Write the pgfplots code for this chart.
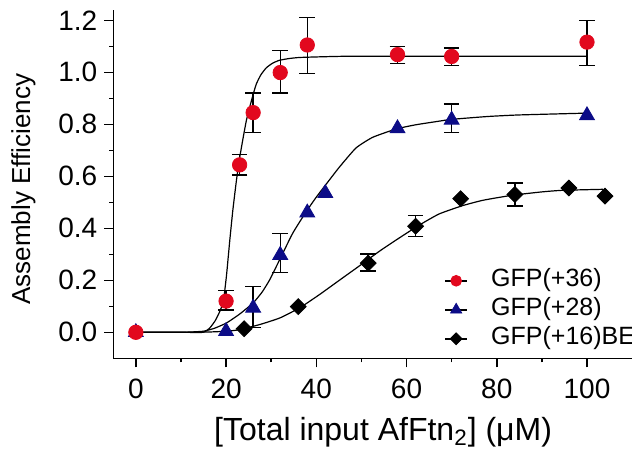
\documentclass[border=0pt]{standalone}
\usepackage{fontspec}
\setmainfont{Liberation Sans}
\usepackage{pgfplots}
\pgfplotsset{compat=1.18}
\definecolor{gfpred}{RGB}{226,8,30}
\definecolor{gfpblue}{RGB}{12,12,135}
\begin{document}
\begin{tikzpicture}
\begin{axis}[
  scale only axis,
  width=259.4pt, height=174.2pt,
  xmin=-5, xmax=110, ymin=-0.1, ymax=1.24,
  axis x line*=bottom, axis y line*=left,
  axis line style={line width=0.75pt, -},
  tick align=outside,
  major tick length=4.5pt, minor tick length=2pt,
  tick style={line width=0.75pt, black},
  xtick={0,20,40,60,80,100}, minor x tick num=1,
  ytick={0,0.2,0.4,0.6,0.8,1.0,1.2}, minor y tick num=1,
  tick label style={font=\fontsize{14}{16}\selectfont},
  xticklabel style={yshift=-2.5pt},
  /pgf/number format/assume math mode=true,
  yticklabel style={/pgf/number format/.cd, fixed, fixed zerofill, precision=1},
  xlabel={{}[Total input AfFtn\textsubscript{2}] (μM)},
  ylabel={Assembly Efficiency},
  xlabel style={font=\fontsize{16}{18}\selectfont, at={(axis description cs:0.52,-0.2124)}, anchor=center},
  ylabel style={font=\fontsize{13}{16}\selectfont, at={(axis description cs:-0.1735,0.485)}, anchor=center},
  legend style={draw=none, fill=none, at={(axis cs:68.3,0.245)}, anchor=north west,
    inner sep=0pt, row sep=2.7pt, column sep=11.6pt,
    font=\fontsize{12.5}{14}\selectfont,
    nodes={inner sep=0pt, text height=9pt, text depth=2.8pt}},
  legend cell align=left,
  legend image code/.code={
    \path[draw=black, line width=0.8pt, solid] (0pt,0pt) -- (11pt,0pt);
    \draw[/tikz/every mark/.append style={scale=0.75}] plot coordinates {(5.5pt,0pt)};
  },
]
% fitted curves
\addplot[forget plot, black, line width=0.6pt, smooth, tension=0.3] coordinates {
  (0,0) (10,0) (14.9,0) (16.4,0.017) (17.6,0.045) (18.6,0.08) (19.4,0.12)
  (20.1,0.22) (20.8,0.35) (21.5,0.47) (22.3,0.585) (23.0,0.67) (23.8,0.75)
  (24.5,0.815) (25.3,0.87) (26.0,0.915) (26.7,0.955) (27.7,0.99) (28.9,1.017)
  (30.3,1.035) (31.8,1.046) (34,1.053) (36.3,1.057) (42,1.06) (50,1.062) (100,1.062)
};
\addplot[forget plot, black, line width=0.6pt, smooth, tension=0.3] coordinates {
  (0,0) (10,0) (14.9,0.004) (17.5,0.016) (20.1,0.036) (23,0.07) (26.0,0.113)
  (28,0.155) (29.7,0.203) (31.9,0.28) (34.8,0.382) (37.8,0.465) (40,0.52)
  (42.2,0.57) (45.1,0.635) (48.8,0.709) (52.5,0.75) (57.7,0.782) (62,0.798)
  (67.2,0.812) (70,0.819) (78,0.83) (85,0.836) (100,0.843)
};
\addplot[forget plot, black, line width=0.6pt, smooth, tension=0.3] coordinates {
  (0,0) (12,0) (16,0.001) (20,0.004) (23.0,0.01) (27.5,0.03) (31.9,0.055)
  (36.3,0.094) (40.7,0.145) (45.1,0.2) (49.6,0.256) (54,0.312) (58.4,0.363)
  (62.8,0.412) (67.2,0.455) (72.4,0.487) (77,0.508) (83.4,0.527) (90,0.54)
  (94.5,0.546) (103.6,0.55)
};
% blue point hidden under the red one at 0
\addplot[forget plot, only marks, mark=triangle*, mark size=4.3pt, color=gfpblue] coordinates {(0,0)};
% error bars
\addplot[forget plot, draw=none, mark=none,
  error bars/.cd, y dir=both, y explicit,
  error bar style={draw=black, line width=0.7pt},
  error mark options={draw=black, rotate=90, mark size=3.9pt, line width=0.7pt}]
  coordinates {
  (20,0.12) += (0,0.041) -= (0,0.035)
  (23,0.644) += (0,0.039) -= (0,0.039)
  (26,0.845) += (0,0.076) -= (0,0.076)
  (32,0.999) += (0,0.084) -= (0,0.078)
  (38,1.105) += (0,0.105) -= (0,0.11)
  (58,1.068) += (0,0.031) -= (0,0.034)
  (70,1.061) += (0,0.033) -= (0,0.034)
  (100,1.116) += (0,0.084) -= (0,0.089)
  (26,0.094) += (0,0.081) -= (0,0.075)
  (32,0.297) += (0,0.084) -= (0,0.067)
  (70,0.817) += (0,0.061) -= (0,0.048)
  (51.5,0.266) += (0,0.035) -= (0,0.03)
  (62,0.408) += (0,0.041) -= (0,0.039)
  (84,0.53) += (0,0.044) -= (0,0.045)
};
% data points
\addplot[only marks, mark=*, mark size=3.6pt, color=gfpred] coordinates {
  (0,0) (20,0.12) (23,0.644) (26,0.845) (32,0.999) (38,1.105) (58,1.068) (70,1.061) (100,1.116)
};
\addlegendentry{GFP(+36)}
\addplot[only marks, mark=triangle*, mark size=4.3pt, color=gfpblue] coordinates {
  (20,0.004) (26,0.094) (32,0.297) (38,0.46) (42,0.535) (58,0.784) (70,0.817) (100,0.834)
};
\addlegendentry{GFP(+28)}
\addplot[only marks, mark=square*, mark size=2.8pt, mark options={rotate=45}, color=black] coordinates {
  (24,0.014) (36,0.099) (51.5,0.266) (62,0.408) (72,0.514) (84,0.53) (96,0.555) (104,0.524)
};
\addlegendentry{GFP(+16)BE}
\end{axis}
\pgfresetboundingbox
\path[use as bounding box] ([xshift=-56.65pt,yshift=-45.35pt]current axis.south west) rectangle ++(316pt,224.5pt);
\end{tikzpicture}
\end{document}
